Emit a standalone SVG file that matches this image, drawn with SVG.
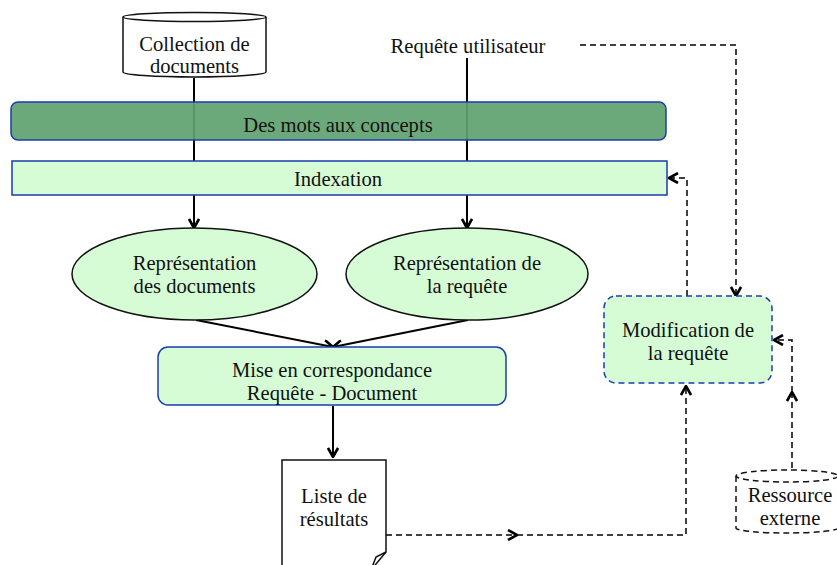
<svg xmlns="http://www.w3.org/2000/svg" width="837" height="565" viewBox="0 0 837 565">
<style>
text{font-size:20.6px;fill:#111;text-anchor:middle}
.box{fill:#d5fcd5;stroke:#1a3db0;stroke-width:1.5}
.ell{fill:#d5fcd5;stroke:#111;stroke-width:1.5}
.solid{fill:none;stroke:#000;stroke-width:2}
.dash{fill:none;stroke:#000;stroke-width:1.5;stroke-dasharray:6 4}
</style>
<defs>
<marker id="arr" viewBox="0 0 12 12" refX="11" refY="6" markerWidth="12" markerHeight="12" markerUnits="userSpaceOnUse" orient="auto">
<path d="M2,1 L11,6 L2,11" fill="none" stroke="#000" stroke-width="2.6"/>
</marker>
</defs>
<g font-family="Liberation Serif, serif">
<g id="collection">
<path d="M123,17 V72 A71.5,5 0 0 0 266,72 V17" fill="#fff" stroke="#111" stroke-width="1.5"/>
<ellipse cx="194.5" cy="17" rx="71.5" ry="4.5" fill="#fff" stroke="#111" stroke-width="1.5"/>
<text x="194.5" y="51">Collection de</text>
<text x="194.5" y="73">documents</text>
</g>
<g id="requete-utilisateur">
<text x="468" y="53">Requête utilisateur</text>
</g>
<g id="connectors">
<path class="solid" d="M194,78 V228" marker-end="url(#arr)"/>
<path class="solid" d="M467,58 V228" marker-end="url(#arr)"/>
<path class="solid" d="M196,320 L333,347" stroke-width="1.5" marker-end="url(#arr)"/>
<path class="solid" d="M468,320 L333,347" stroke-width="1.5" marker-end="url(#arr)"/>
<path class="solid" d="M333,406 V457" stroke-width="3" marker-end="url(#arr)"/>
<path class="dash" d="M386,535 H517" marker-end="url(#arr)"/>
<path class="dash" d="M517,535 H686 V386" marker-end="url(#arr)"/>
<path class="dash" d="M687,296 V178 H669" marker-end="url(#arr)"/>
<path class="dash" d="M580,45 H736 V296" marker-end="url(#arr)"/>
<path class="dash" d="M792,468 V392" marker-end="url(#arr)"/>
<path class="dash" d="M792,392 V340 H774" marker-end="url(#arr)"/>
</g>
<g id="des-mots">
<rect x="11" y="102" width="655" height="38" rx="7" fill="#5fa26f" fill-opacity="0.92" stroke="#1a3db0" stroke-width="1.5"/>
<text x="338" y="132">Des mots aux concepts</text>
</g>
<g id="indexation">
<rect x="12" y="161" width="655" height="34" class="box"/>
<text x="338" y="186">Indexation</text>
</g>
<g id="rep-documents">
<ellipse cx="194.5" cy="274" rx="122.5" ry="46" class="ell"/>
<text x="194.5" y="270">Représentation</text>
<text x="194.5" y="293">des documents</text>
</g>
<g id="rep-requete">
<ellipse cx="467" cy="274" rx="121" ry="46" class="ell"/>
<text x="467" y="270">Représentation de</text>
<text x="467" y="293">la requête</text>
</g>
<g id="mise-en-correspondance">
<rect x="158" y="347" width="348" height="58" rx="10" class="box"/>
<text x="332" y="377">Mise en correspondance</text>
<text x="332" y="400">Requête - Document</text>
</g>
<g id="liste-resultats">
<path d="M282,460 H386 V552 L371,570 H282 Z" fill="#fff" stroke="#111" stroke-width="1.5"/>
<path d="M386,552 L376,557 L371,570" fill="none" stroke="#111" stroke-width="1.5"/>
<text x="334" y="503">Liste de</text>
<text x="334" y="526">résultats</text>
</g>
<g id="modification">
<rect x="604" y="296" width="168" height="87" rx="12" class="box" stroke-dasharray="6 4"/>
<text x="688" y="337">Modification de</text>
<text x="688" y="360">la requête</text>
</g>
<g id="ressource-externe">
<path d="M736,476 V528 A51,5 0 0 0 838,528 V476" fill="#fff" stroke="#111" stroke-width="1.5" stroke-dasharray="6 4"/>
<ellipse cx="787" cy="476" rx="51" ry="6" fill="#fff" stroke="#111" stroke-width="1.5" stroke-dasharray="6 4"/>
<text x="790" y="502">Ressource</text>
<text x="790" y="525">externe</text>
</g>
</g>
</svg>
